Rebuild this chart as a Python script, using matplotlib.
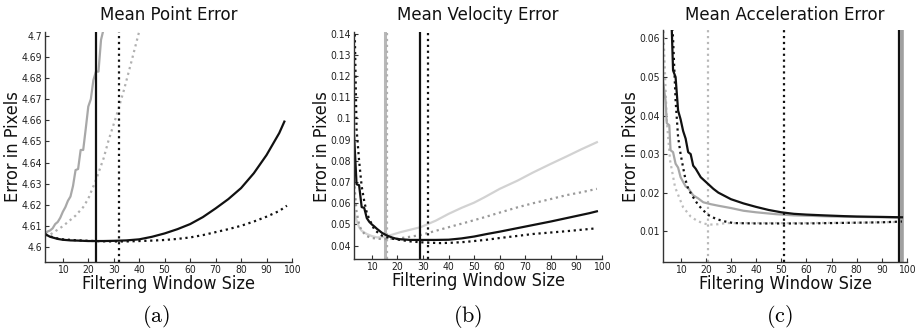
import matplotlib
matplotlib.use("Agg")
import matplotlib.pyplot as plt
from matplotlib.ticker import MultipleLocator, FuncFormatter

plt.rcParams['font.family'] = ['DejaVu Sans']
plt.rcParams['mathtext.fontset'] = 'cm'

# ---------------- Data ----------------
titles = ["Mean Point Error", "Mean Velocity Error", "Mean Acceleration Error"]
captions = ["(a)", "(b)", "(c)"]
xlabel = "Filtering Window Size"
ylabel = "Error in Pixels"
x_ticks = [10, 20, 30, 40, 50, 60, 70, 80, 90, 100]

# Panel (a): Mean Point Error
a_black_solid_x = [3, 5, 8, 10, 13, 16, 20, 23, 26, 30, 35, 40, 45, 50, 55, 60, 65, 70, 75, 80, 85, 90, 95, 97]
a_black_solid_y = [4.6063, 4.6050, 4.6040, 4.6036, 4.6033, 4.6032, 4.6030, 4.6030, 4.6030, 4.6031, 4.6033,
                   4.6038, 4.6050, 4.6066, 4.6086, 4.6110, 4.6143, 4.6184, 4.6228, 4.6280, 4.6350, 4.6436,
                   4.6540, 4.6594]
a_black_dot_x = [3, 5, 8, 10, 15, 20, 25, 30, 32, 35, 40, 45, 50, 55, 60, 65, 70, 75, 80, 85, 90, 95, 98]
a_black_dot_y = [4.6062, 4.6052, 4.6042, 4.6038, 4.6034, 4.6031, 4.6029, 4.6028, 4.6028, 4.6028, 4.6030,
                 4.6032, 4.6035, 4.6040, 4.6047, 4.6058, 4.6072, 4.6086, 4.6102, 4.6122, 4.6145, 4.6172,
                 4.6197]
a_gray_solid_x = [3, 4, 5, 6, 7, 8, 9, 10, 11, 12, 13, 14, 15, 16, 17, 18, 19, 20, 21, 22, 23, 24, 25, 26]
a_gray_solid_y = [4.6062, 4.6075, 4.6080, 4.6090, 4.6110, 4.6120, 4.6140, 4.6168, 4.6190, 4.6220, 4.6240,
                  4.6290, 4.6365, 4.6370, 4.6460, 4.6460, 4.6560, 4.6665, 4.6700, 4.6790, 4.6830, 4.6830,
                  4.6980, 4.7030]
a_gray_dot_x = [3, 5, 10, 15, 18, 20, 23, 26, 28, 31, 34, 37, 40]
a_gray_dot_y = [4.6055, 4.6060, 4.6100, 4.6150, 4.6190, 4.6230, 4.6318, 4.6420, 4.6507, 4.6620, 4.6743,
                4.6880, 4.7020]
a_vlines_black_solid = [23]
a_vlines_black_dot = [32]

# Panel (b): Mean Velocity Error
b_black_solid_x = [3, 4, 5, 6, 7, 8, 9, 10, 11, 12, 14, 16, 18, 20, 25, 29, 35, 40, 45, 50, 55, 60, 65,
                   70, 75, 80, 85, 90, 95, 98]
b_black_solid_y = [0.0928, 0.0690, 0.0685, 0.0582, 0.0578, 0.0530, 0.0512, 0.0500, 0.0490, 0.0479, 0.0460,
                   0.0447, 0.0438, 0.0431, 0.0427, 0.0427, 0.0427, 0.0428, 0.0434, 0.0443, 0.0455, 0.0466,
                   0.0478, 0.0490, 0.0502, 0.0514, 0.0527, 0.0540, 0.0553, 0.0562]
b_black_dot_x = [3, 4, 5, 6, 7, 8, 9, 10, 11, 12, 14, 17, 21, 25, 29, 32, 37, 42, 47, 55, 60, 67, 73, 80,
                 86, 92, 98]
b_black_dot_y = [0.1600, 0.0950, 0.0800, 0.0680, 0.0610, 0.0555, 0.0525, 0.0500, 0.0475, 0.0465, 0.0447,
                 0.0435, 0.0427, 0.0420, 0.0416, 0.0414, 0.0412, 0.0414, 0.0418, 0.0428, 0.0436, 0.0446,
                 0.0455, 0.0462, 0.0468, 0.0475, 0.0482]
b_gray_solid_x = [3, 4, 5, 6, 8, 10, 12, 14, 16, 18, 21, 25, 29, 35, 40, 45, 50, 54, 60, 67, 73, 80, 86,
                  92, 98]
b_gray_solid_y = [0.0565, 0.0520, 0.0487, 0.0470, 0.0455, 0.0445, 0.0439, 0.0440, 0.0445, 0.0452, 0.0463,
                  0.0475, 0.0487, 0.0518, 0.0550, 0.0578, 0.0603, 0.0628, 0.0668, 0.0707, 0.0745, 0.0786,
                  0.0820, 0.0855, 0.0888]
b_gray_dot_x = [3, 4, 5, 6, 8, 10, 13, 15, 18, 21, 25, 29, 35, 40, 47, 54, 60, 67, 73, 80, 86, 92, 98]
b_gray_dot_y = [0.0707, 0.0560, 0.0500, 0.0470, 0.0445, 0.0436, 0.0432, 0.0431, 0.0432, 0.0435, 0.0442,
                0.0450, 0.0470, 0.0487, 0.0510, 0.0534, 0.0556, 0.0581, 0.0600, 0.0620, 0.0638, 0.0652,
                0.0668]
b_vlines_gray_solid = [15]
b_vlines_gray_dot = [16]
b_vlines_black_solid = [29]
b_vlines_black_dot = [32]

# Panel (c): Mean Acceleration Error
c_black_solid_x = [5, 6, 6.5, 7, 8, 9, 10, 11, 12, 13, 14, 15, 16, 18, 20, 23, 25, 30, 35, 40, 45, 50,
                   55, 60, 67, 75, 80, 90, 98]
c_black_solid_y = [0.0720, 0.0640, 0.0621, 0.0517, 0.0500, 0.0413, 0.0390, 0.0360, 0.0340, 0.0305, 0.0300,
                   0.0270, 0.0262, 0.0240, 0.0228, 0.0210, 0.0200, 0.0183, 0.0172, 0.0163, 0.0155, 0.0149,
                   0.0145, 0.0143, 0.0141, 0.0139, 0.0138, 0.0137, 0.0136]
c_black_dot_x = [6, 7, 8, 9, 10, 11, 12, 13, 15, 17, 19, 21, 24, 27, 31, 40, 50, 60, 70, 80, 90, 98]
c_black_dot_y = [0.0720, 0.0600, 0.0440, 0.0344, 0.0300, 0.0265, 0.0232, 0.0210, 0.0188, 0.0168, 0.0154,
                 0.0142, 0.0132, 0.0126, 0.0121, 0.0120, 0.0120, 0.0120, 0.0121, 0.0122, 0.0123, 0.0125]
c_gray_solid_x = [3, 4, 4.5, 5.5, 6, 7, 8, 9, 10, 12, 13, 15, 17, 19, 22, 25, 30, 35, 40, 48, 55, 61, 70,
                  80, 90, 98]
c_gray_solid_y = [0.0490, 0.0440, 0.0380, 0.0375, 0.0310, 0.0305, 0.0275, 0.0265, 0.0240, 0.0216, 0.0212,
                  0.0193, 0.0185, 0.0175, 0.0170, 0.0166, 0.0160, 0.0153, 0.0149, 0.0144, 0.0141, 0.0140,
                  0.0138, 0.0137, 0.0136, 0.0135]
c_gray_dot_x = [3, 3.5, 4.5, 5.8, 7.8, 11, 14, 16.3, 19, 21.5, 25, 28, 35, 45, 60, 80, 98]
c_gray_dot_y = [0.0650, 0.0560, 0.0388, 0.0284, 0.0214, 0.0162, 0.0138, 0.0128, 0.0120, 0.0117, 0.0118,
                0.0121, 0.0121, 0.0121, 0.0121, 0.0122, 0.0124]
c_vlines_gray_dot = [21]
c_vlines_black_dot = [51]
c_vlines_black_solid = [97]
c_vlines_gray_solid = [98]

# ---------------- Figure ----------------
fig = plt.figure(figsize=(9.21, 3.35), dpi=100)

H = 335.0
W = 921.0
def box(l, r, t, b):
    return [l / W, (H - b) / H, (r - l) / W, (b - t) / H]

axes_boxes = [box(45, 292, 32, 262), box(354, 602, 32, 259), box(663, 907, 30, 262)]
ylims = [(4.5931, 4.7017), (0.0337, 0.1408), (0.0020, 0.0622)]
ymajor = [0.01, 0.01, 0.01]
ylab_x = [13, 322, 631]
cap_x = [156, 468, 779]

BLACK = "#111111"
def fmt(v, pos):
    return ("%.3f" % v).rstrip("0").rstrip(".")

label_font = dict(family="DejaVu Sans", stretch="condensed", size=13, color="#111111")

axs = []
for i in range(3):
    ax = fig.add_axes(axes_boxes[i])
    axs.append(ax)
    ax.set_xlim(3, 100)
    ax.set_ylim(*ylims[i])
    ax.set_xticks(x_ticks)
    ax.yaxis.set_major_locator(MultipleLocator(ymajor[i]))
    ax.yaxis.set_major_formatter(FuncFormatter(fmt))
    for s in ["top", "right"]:
        ax.spines[s].set_visible(False)
    for s in ["left", "bottom"]:
        ax.spines[s].set_linewidth(1.0)
        ax.spines[s].set_color("#333333")
    ax.tick_params(direction="in", length=3, width=0.8, labelsize=7.5, colors="#333333",
                   labelcolor="#222222", pad=2)
    for lab in ax.get_xticklabels() + ax.get_yticklabels():
        lab.set_fontstretch("condensed")
    ax.set_xlabel(xlabel, labelpad=0, fontdict=label_font)
    cx = axes_boxes[i][0] + axes_boxes[i][2] / 2
    fig.text(cx, (H - 15) / H, titles[i], fontsize=12, ha="center", va="center", color="#111111")
    fig.text(ylab_x[i] / W, 0.5 * ((H - 32) + (H - 262)) / H, ylabel, rotation=90,
             ha="center", va="center", fontdict=label_font)
    fig.text(cap_x[i] / W, (H - 316) / H, "$\\mathrm{" + captions[i] + "}$", fontsize=16,
             ha="center", va="center")

lw = 1.6
# (a)
ax = axs[0]
ax.plot(a_gray_solid_x, a_gray_solid_y, color="#a8a8a8", lw=lw)
ax.plot(a_gray_dot_x, a_gray_dot_y, color="#b0b0b0", lw=lw, ls=":")
ax.plot(a_black_dot_x, a_black_dot_y, color=BLACK, lw=lw, ls=":")
ax.plot(a_black_solid_x, a_black_solid_y, color=BLACK, lw=lw)
for v in a_vlines_black_solid:
    ax.axvline(v, color=BLACK, lw=lw)
for v in a_vlines_black_dot:
    ax.axvline(v, color=BLACK, lw=lw, ls=":")

# (b)
ax = axs[1]
for v in b_vlines_gray_solid:
    ax.axvline(v, color="#b8b8b8", lw=2.2)
for v in b_vlines_gray_dot:
    ax.axvline(v, color="#b0b0b0", lw=lw, ls=":")
ax.plot(b_gray_solid_x, b_gray_solid_y, color="#d2d2d2", lw=lw)
ax.plot(b_gray_dot_x, b_gray_dot_y, color="#9a9a9a", lw=lw, ls=":")
ax.plot(b_black_dot_x, b_black_dot_y, color=BLACK, lw=lw, ls=":")
ax.plot(b_black_solid_x, b_black_solid_y, color=BLACK, lw=lw)
for v in b_vlines_black_solid:
    ax.axvline(v, color=BLACK, lw=lw)
for v in b_vlines_black_dot:
    ax.axvline(v, color=BLACK, lw=lw, ls=":")

# (c)
ax = axs[2]
for v in c_vlines_gray_solid:
    ax.axvline(v, color="#a0a0a0", lw=2.6)
for v in c_vlines_gray_dot:
    ax.axvline(v, color="#b8b8b8", lw=lw, ls=":")
ax.plot(c_gray_dot_x, c_gray_dot_y, color="#bdbdbd", lw=lw, ls=":")
ax.plot(c_gray_solid_x, c_gray_solid_y, color="#a8a8a8", lw=lw)
ax.plot(c_black_dot_x, c_black_dot_y, color=BLACK, lw=lw, ls=":")
ax.plot(c_black_solid_x, c_black_solid_y, color=BLACK, lw=lw)
for v in c_vlines_black_solid:
    ax.axvline(v, color=BLACK, lw=lw)
for v in c_vlines_black_dot:
    ax.axvline(v, color=BLACK, lw=lw, ls=":")

fig.savefig("out.png", dpi=100)
